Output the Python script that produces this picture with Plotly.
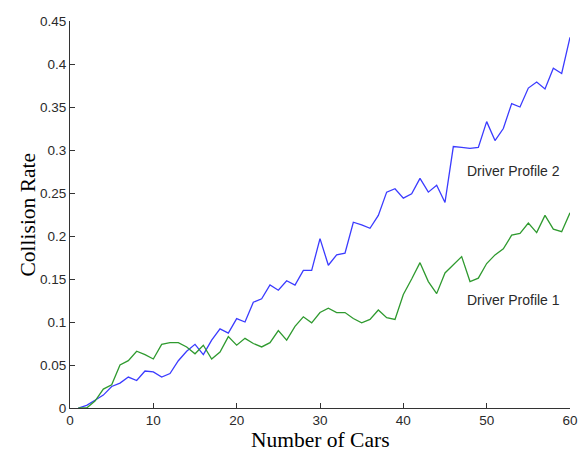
import plotly.graph_objects as go

cars = list(range(1, 61))
profile2 = [0.000, 0.003, 0.009, 0.015, 0.025, 0.029, 0.036, 0.032, 0.043, 0.042,
            0.036, 0.040, 0.055, 0.066, 0.074, 0.062, 0.079, 0.092, 0.087, 0.104,
            0.100, 0.123, 0.127, 0.143, 0.137, 0.148, 0.143, 0.160, 0.160, 0.197,
            0.166, 0.178, 0.180, 0.216, 0.213, 0.209, 0.224, 0.251, 0.255, 0.244,
            0.249, 0.267, 0.251, 0.259, 0.239, 0.304, 0.303, 0.302, 0.303, 0.333,
            0.311, 0.325, 0.354, 0.350, 0.372, 0.379, 0.371, 0.395, 0.389, 0.431]
profile1 = [0.000, 0.000, 0.008, 0.022, 0.027, 0.050, 0.055, 0.066, 0.062, 0.057,
            0.074, 0.076, 0.076, 0.071, 0.063, 0.073, 0.057, 0.065, 0.083, 0.073,
            0.081, 0.075, 0.071, 0.076, 0.090, 0.079, 0.095, 0.106, 0.099, 0.111,
            0.116, 0.111, 0.111, 0.104, 0.099, 0.103, 0.114, 0.105, 0.103, 0.132,
            0.150, 0.169, 0.147, 0.133, 0.157, 0.166, 0.176, 0.147, 0.151, 0.168,
            0.178, 0.185, 0.201, 0.203, 0.215, 0.204, 0.224, 0.208, 0.205, 0.227]

xticks = [0, 10, 20, 30, 40, 50, 60]
yticks = [0, 0.05, 0.1, 0.15, 0.2, 0.25, 0.3, 0.35, 0.4, 0.45]
ytick_labels = ["0", "0.05", "0.1", "0.15", "0.2", "0.25", "0.3", "0.35", "0.4", "0.45"]

fig = go.Figure()
fig.add_trace(go.Scatter(x=cars, y=profile2, mode="lines", name="Driver Profile 2",
                         line=dict(color="#3b3bff", width=1.3)))
fig.add_trace(go.Scatter(x=cars, y=profile1, mode="lines", name="Driver Profile 1",
                         line=dict(color="#2f9a2f", width=1.3)))

fig.add_annotation(x=47.4, y=0.2756, text="Driver Profile 2", showarrow=False,
                   xanchor="left", yanchor="middle",
                   font=dict(family="Liberation Sans, Arial", size=14, color="#2a2a2a"))
fig.add_annotation(x=47.4, y=0.1256, text="Driver Profile 1", showarrow=False,
                   xanchor="left", yanchor="middle",
                   font=dict(family="Liberation Sans, Arial", size=14, color="#2a2a2a"))

title_font = dict(family="Liberation Serif, Times New Roman", size=21.5, color="black")
fig.add_annotation(xref="paper", yref="paper", x=0, y=0.5, xshift=-43, textangle=-90,
                   text="Collision Rate", showarrow=False, xanchor="center", yanchor="middle",
                   font=title_font)
fig.add_annotation(xref="paper", yref="paper", x=0.5, y=0, yshift=-32,
                   text="Number of Cars", showarrow=False, xanchor="center", yanchor="middle",
                   font=title_font)

axis_common = dict(showgrid=False, zeroline=False, showline=True, linecolor="#333333",
                   linewidth=1, ticks="inside", ticklen=5, tickcolor="#333333",
                   automargin=False,
                   tickfont=dict(family="Liberation Sans, Arial", size=13.5, color="#2a2a2a"))

fig.update_layout(
    width=580, height=451,
    margin=dict(l=70, r=10, t=21, b=43),
    paper_bgcolor="white", plot_bgcolor="white",
    showlegend=False,
    xaxis=dict(range=[0, 60], tickvals=xticks, **axis_common),
    yaxis=dict(range=[0, 0.45], tickvals=yticks, ticktext=ytick_labels, **axis_common),
)

fig.write_html("out.html", config={"displayModeBar": False},
               post_script="document.body.style.margin='0';document.body.style.overflow='hidden';")
